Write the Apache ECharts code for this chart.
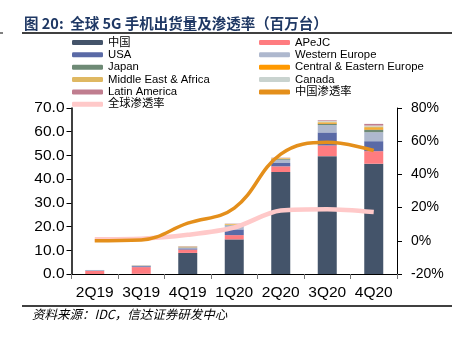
<!DOCTYPE html>
<html><head><meta charset="utf-8">
<script src="https://cdn.jsdelivr.net/npm/echarts@6/dist/echarts.min.js"></script>
<style>html,body{margin:0;padding:0;background:#fff}#c{width:461px;height:337px}</style>
</head><body><div id="c"></div>
<script>
var categories = ['2Q19','3Q19','4Q19','1Q20','2Q20','3Q20','4Q20'];
var china   = [0,   0.1, 8.9, 14.6, 43.0, 49.7, 46.5];
var apejc   = [1.3, 2.8, 1.4, 1.8, 2.4, 4.5, 5.3];
var usa     = [0.2, 0.4, 0.5, 2.4, 1.4, 5.5, 4.2];
var westEu  = [0.2, 0.3, 0.4, 1.7, 1.4, 3.1, 3.8];
var japan   = [0,   0,   0.1, 0.2, 0.3, 0.6, 1.1];
var ceEu    = [0,   0,   0.1, 0.2, 0.2, 0.4, 0.6];
var mea     = [0,   0.1, 0.2, 0.2, 0.2, 0.4, 0.7];
var canada  = [0,   0.1, 0.1, 0.1, 0.1, 0.3, 0.4];
var latam   = [0,   0,   0.1, 0.1, 0.1, 0.3, 0.7];
var chinaPen  = [0, 0.5, 10.6, 19.7, 52.2, 59.3, 54.4];
var globalPen = [1.0, 1.3, 3.6, 8.0, 18.2, 19.0, 17.3];
var leftTicks = [0,10,20,30,40,50,60,70];
var rightTicks = [-20,0,20,40,60,80];

var barSeries = [
  ['中国', china, '#44546A'],
  ['APeJC', apejc, '#FF7C80'],
  ['USA', usa, '#5A6AA6'],
  ['Western Europe', westEu, '#AEB8CE'],
  ['Japan', japan, '#6E8A75'],
  ['Central & Eastern Europe', ceEu, '#FF9900'],
  ['Middle East & Africa', mea, '#DFB862'],
  ['Canada', canada, '#C9D3CF'],
  ['Latin America', latam, '#C07D8F']
];
var series = barSeries.map(function(s){
  return {name:s[0], type:'bar', stack:'t', data:s[1], barWidth:19,
    itemStyle:{color:s[2]}, yAxisIndex:0, z:2};
});
series.push({name:'中国渗透率', type:'line', data:chinaPen, yAxisIndex:1, smooth:0.4, symbol:'none',
  lineStyle:{color:'#E48F1B', width:3.5}, itemStyle:{color:'#E48F1B'}, z:4});
series.push({name:'全球渗透率', type:'line', data:globalPen, yAxisIndex:1, smooth:0.3, symbol:'none',
  lineStyle:{color:'#FFC9C9', width:4.5}, itemStyle:{color:'#FFC9C9'}, z:3});

var fam = 'Liberation Sans, Arial, Noto Sans CJK SC, sans-serif';
var legText = {fontSize:11.3, color:'#000', fontFamily:fam, lineHeight:12, padding:[0,0,0,0]};
var chart = echarts.init(document.getElementById('c'));
chart.setOption({
  animation:false,
  textStyle:{fontFamily:fam},
  legend:[
    {orient:'vertical', left:72, top:36.5, itemWidth:31, itemHeight:5, itemGap:0.35,
     padding:0, textStyle:legText, selectedMode:false,
     data:['中国','USA','Japan','Middle East & Africa','Latin America',{name:'全球渗透率', icon:'roundRect'}]},
    {orient:'vertical', left:259, top:36.5, itemWidth:31, itemHeight:5, itemGap:0.35,
     padding:0, textStyle:legText, selectedMode:false,
     data:['APeJC','Western Europe','Central & Eastern Europe','Canada',{name:'中国渗透率', icon:'roundRect'}]}
  ],
  grid:{left:71.5, right:64, top:108, bottom:63},
  xAxis:{type:'category', data:categories,
    axisLine:{lineStyle:{color:'#000', width:1}},
    axisTick:{show:true, alignWithLabel:false, length:5, lineStyle:{color:'#777'}},
    axisLabel:{color:'#000', fontSize:15.5, margin:11, fontFamily:fam, interval:0, hideOverlap:false}},
  yAxis:[
    {type:'value', min:leftTicks[0], max:leftTicks[leftTicks.length-1], interval:10,
     axisLine:{show:true, lineStyle:{color:'#000', width:1.5}},
     axisTick:{show:true, length:5, lineStyle:{color:'#000'}},
     splitLine:{show:false},
     axisLabel:{color:'#000', fontSize:15.5, margin:7, fontFamily:fam,
       formatter:function(v){return v.toFixed(1);}}},
    {type:'value', min:rightTicks[0], max:rightTicks[rightTicks.length-1], interval:20,
     position:'right',
     axisLine:{show:true, lineStyle:{color:'#000', width:1}},
     axisTick:{show:true, length:5, lineStyle:{color:'#000'}},
     splitLine:{show:false},
     axisLabel:{color:'#000', fontSize:14, margin:14, fontFamily:fam,
       formatter:function(v){return v+'%';}}}
  ],
  graphic:[
    {type:'text', left:24, top:16, style:{text:'图 20:  全球 5G 手机出货量及渗透率（百万台）',
      fill:'#1F3864', font:'bold 14.5px Noto Sans CJK SC, sans-serif'}},
    {type:'line', shape:{x1:22,y1:33,x2:452,y2:33}, style:{stroke:'#000', lineWidth:1.5}},
    {type:'line', shape:{x1:22,y1:306,x2:452,y2:306}, style:{stroke:'#000', lineWidth:1.5}},
    {type:'line', shape:{x1:0,y1:33,x2:3,y2:33}, style:{stroke:'#000', lineWidth:1}},
    {type:'text', left:32, top:308, style:{text:'资料来源：IDC，信达证券研发中心',
      fill:'#000', font:'italic 12.5px Noto Sans CJK SC, sans-serif'}}
  ],
  series:series
});
</script></body></html>
